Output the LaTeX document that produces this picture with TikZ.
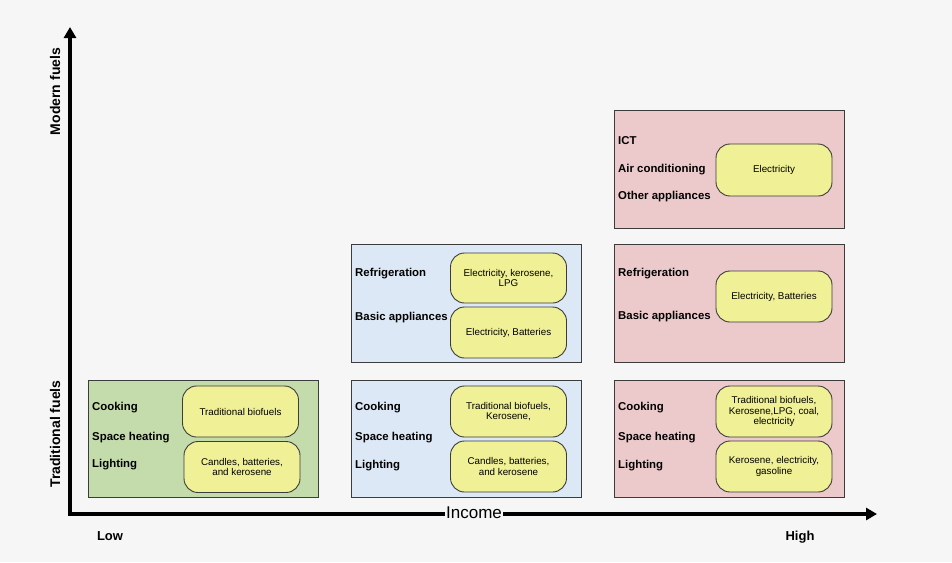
\documentclass[tikz,border=0pt]{standalone}
\usepackage{fontspec}
\setmainfont{Liberation Sans}
\usetikzlibrary{arrows.meta}
\definecolor{bgc}{RGB}{246,246,246}
\definecolor{grn}{RGB}{196,220,172}
\definecolor{blu}{RGB}{220,232,245}
\definecolor{pnk}{RGB}{236,201,203}
\definecolor{yel}{RGB}{240,240,150}
\definecolor{edge}{RGB}{60,60,60}
\tikzset{
  panel/.style={draw=edge, line width=0.9pt, minimum width=230pt, minimum height=117pt, inner sep=0pt},
  fuel/.style={draw=edge, line width=0.9pt, fill=yel, rounded corners=14pt, minimum width=116pt, minimum height=51pt, inner sep=1pt, align=center, font=\fontsize{9.8}{10.5}\selectfont},
  use/.style={anchor=west, inner sep=0pt, font=\fontsize{11.4}{12}\selectfont\bfseries},
  axis/.style={line width=3.2pt, line join=miter},
  axlab/.style={inner sep=0pt, font=\fontsize{13}{14}\selectfont\bfseries},
}
\begin{document}
\begin{tikzpicture}[x=1pt,y=-1pt]
\fill[bgc] (0,0) rectangle (952,562);
\useasboundingbox (0,0) rectangle (952,562);

% axes
\coordinate (O) at (70,514);
\coordinate (ytip) at (70,27);
\coordinate (xtip) at (877,514);
\draw[axis, {Triangle[length=11pt,width=12pt]}-{Triangle[length=11pt,width=12pt]}] (ytip) -- (O) -- (xtip);
\node[fill=bgc, inner sep=1pt, font=\fontsize{17}{19}\selectfont] (inc) at (474,513) {Income};
\node[axlab] (low) at (110,536) {Low};
\node[axlab] (high) at (800,537) {High};
\node[axlab, rotate=90, font=\fontsize{14}{15}\selectfont\bfseries] (modern) at (55,91.5) {Modern fuels};
\node[axlab, rotate=90, font=\fontsize{14}{15}\selectfont\bfseries] (trad) at (55,434) {Traditional fuels};

% panels
\node[panel, fill=grn] (g1) at (203,438.5) {};
\node[panel, fill=blu] (b1) at (466,438.5) {};
\node[panel, fill=blu, minimum height=118pt] (b2) at (466,303) {};
\node[panel, fill=pnk] (p1) at (729,438.5) {};
\node[panel, fill=pnk, minimum height=118pt] (p2) at (729,303) {};
\node[panel, fill=pnk, minimum height=118pt] (p3) at (729,169) {};

% green panel
\node[use] (gc) at (92,408) {Cooking};
\node[use] (gs) at (92,438) {Space heating};
\node[use] (gl) at (92,465) {Lighting};
\node[fuel] (gf1) at (240.5,411.5) {Traditional biofuels};
\node[fuel] (gf2) at (242,467) {Candles, batteries,\\and kerosene};

% blue lower panel
\node[use] (bc) at (355,408) {Cooking};
\node[use] (bs) at (355,438) {Space heating};
\node[use] (bl) at (355,466) {Lighting};
\node[fuel] (bf1) at (508.5,411.5) {Traditional biofuels,\\Kerosene,};
\node[fuel] (bf2) at (508.5,466.5) {Candles, batteries,\\and kerosene};

% blue upper panel
\node[use] (br) at (355,274) {Refrigeration};
\node[use] (ba) at (355,318) {Basic appliances};
\node[fuel, minimum height=50pt] (bf3) at (508.5,278) {Electricity, kerosene,\\LPG};
\node[fuel] (bf4) at (508.5,332.5) {Electricity, Batteries};

% pink lower panel
\node[use] (pc) at (618,408) {Cooking};
\node[use] (ps) at (618,438) {Space heating};
\node[use] (pl) at (618,466) {Lighting};
\node[fuel] (pf1) at (774,411.5) {Traditional biofuels,\\Kerosene,LPG, coal,\\electricity};
\node[fuel] (pf2) at (774,466.5) {Kerosene, electricity,\\gasoline};

% pink middle panel
\node[use] (pr) at (618,274) {Refrigeration};
\node[use] (pa) at (618,317) {Basic appliances};
\node[fuel] (pf3) at (774,296.5) {Electricity, Batteries};

% pink upper panel
\node[use] (pi) at (618,141) {ICT};
\node[use] (pac) at (618,170) {Air conditioning};
\node[use] (po) at (618,197) {Other appliances};
\node[fuel, minimum height=52pt] (pf4) at (774,170) {Electricity};
\end{tikzpicture}
\end{document}
